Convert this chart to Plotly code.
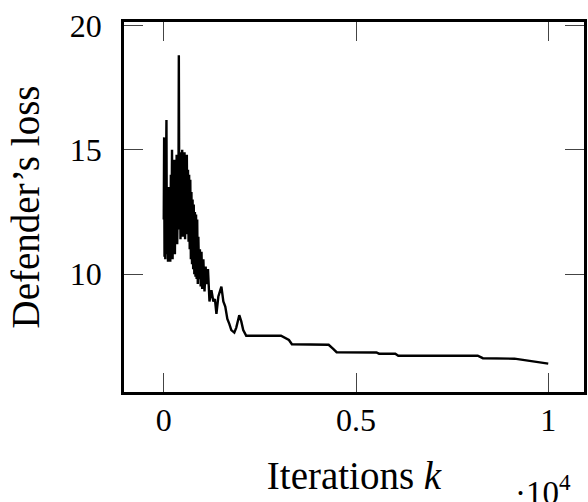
import plotly.graph_objects as go

# Iterations k and defender's loss
iterations = [
    0, 10, 20, 30, 40, 50, 60, 70, 80, 95, 110, 125, 140, 155, 170, 185, 200, 215,
    230, 245, 260, 275, 290, 305, 320, 335, 350, 365, 380, 392, 405, 420, 435, 450,
    465, 480, 495, 510, 525, 540, 555, 570, 585, 600, 615, 630, 645, 660, 675, 690,
    705, 720, 735, 750, 765, 780, 795, 810, 825, 840, 855, 870, 885, 900, 920, 940,
    960, 982, 1000, 1030, 1060, 1090, 1111, 1150, 1189, 1240, 1290, 1330, 1370,
    1420, 1499, 1550, 1600, 1654, 1705, 1757, 1835, 1886, 1964, 2016, 2067, 2145,
    3049, 3150, 3256, 3333, 4289, 4400, 4496, 5530, 5600, 6021, 6100, 8165, 8300,
    9121, 9500, 10000,
]
loss = [
    12.2, 15.5, 10.7, 13.8, 10.6, 14.2, 11.0, 16.2, 10.8, 13.0, 10.5, 13.5, 10.6,
    12.8, 10.5, 14.0, 11.2, 15.0, 10.6, 13.2, 11.0, 14.6, 10.8, 13.9, 11.5, 14.8,
    11.2, 13.0, 12.0, 18.8, 11.8, 14.9, 11.4, 14.6, 11.8, 15.0, 11.5, 14.7, 12.0,
    14.9, 11.4, 14.5, 11.6, 14.8, 11.8, 14.2, 11.3, 14.0, 11.0, 13.8, 10.6, 13.3,
    10.4, 13.0, 10.2, 12.8, 10.0, 12.5, 9.9, 12.4, 9.8, 12.2, 9.6, 11.5, 9.8, 11.0,
    9.5, 10.9, 9.4, 10.6, 9.3, 10.3, 9.6, 10.2, 8.9, 9.35, 8.9, 9.0, 8.4,
    9.1, 9.5, 8.9, 8.7, 8.2, 8.0, 7.75, 7.65, 7.85, 8.35, 8.1, 7.75, 7.52,
    7.52, 7.42, 7.35, 7.18, 7.16, 7.0, 6.86, 6.85, 6.8, 6.8, 6.72, 6.72, 6.62,
    6.6, 6.52, 6.4,
]

x_scaled = [k / 1e4 for k in iterations]

x_tickvals = [0, 0.5, 1]
x_ticktext = ["0", "0.5", "1"]
y_tickvals = [10, 15, 20]
y_ticktext = ["10", "15", "20"]

FONT = "Liberation Serif"

fig = go.Figure()
fig.add_trace(go.Scatter(
    x=x_scaled, y=loss, mode="lines",
    line=dict(color="black", width=2.4),
    showlegend=False, hoverinfo="skip",
))

axis_common = dict(
    showgrid=False, zeroline=False,
    showline=True, linecolor="black", linewidth=2.5, mirror="ticks",
    ticks="inside", ticklen=19, tickwidth=1, tickcolor="#444",
    tickfont=dict(family=FONT, size=32, color="black"),
)

fig.update_layout(
    width=588, height=502,
    margin=dict(l=124, r=1, t=22, b=110),
    paper_bgcolor="white", plot_bgcolor="white",
    font=dict(family=FONT, color="black"),
    xaxis=dict(
        range=[-0.1034, 1.093], tickvals=x_tickvals, ticktext=x_ticktext,
        title=dict(text="Iterations <i>k</i>", font=dict(family=FONT, size=39, color="black"), standoff=25),
        ticklabelstandoff=-2,
        **axis_common,
    ),
    yaxis=dict(
        range=[5.26, 20.14], tickvals=y_tickvals, ticktext=y_ticktext,
        title=dict(text="Defender’s loss", font=dict(family=FONT, size=39, color="black"), standoff=19),
        ticklabelstandoff=13,
        **axis_common,
    ),
    annotations=[dict(
        text="·10<sup>4</sup>", xref="paper", yref="paper",
        x=0.91, y=-0.203, xanchor="center", yanchor="top", showarrow=False,
        font=dict(family=FONT, size=33, color="black"),
    )],
)

fig.write_html("out.html")
